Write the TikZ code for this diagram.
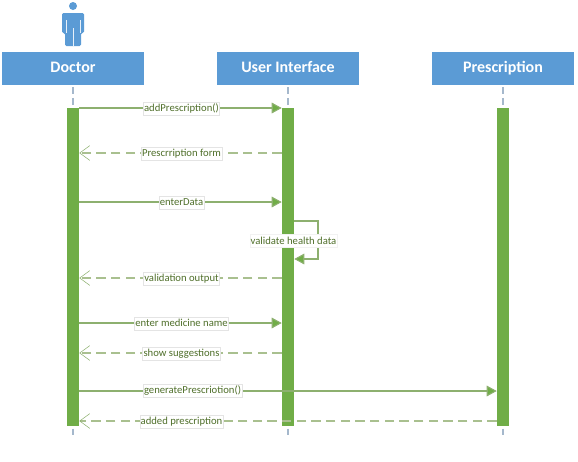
\documentclass[tikz,border=0pt]{standalone}
\usepackage{fontspec}
\setmainfont{Carlito}
\usepackage{xcolor}
\usetikzlibrary{arrows.meta,positioning,calc}
\definecolor{headblue}{HTML}{5B9BD5}
\definecolor{barleaf}{HTML}{70AD47}
\definecolor{msgleaf}{HTML}{8DB06F}
\definecolor{retleaf}{HTML}{A9C08F}
\definecolor{labeltext}{HTML}{4F6F2A}
\definecolor{lifegrey}{HTML}{A5B8CC}
\definecolor{boxgrey}{HTML}{E4E4E4}
\begin{document}
\begin{tikzpicture}[x=0.75pt,y=-0.75pt,
  head/.style={fill=headblue,text=white,font=\fontsize{12}{14}\selectfont\bfseries,minimum width=107pt,minimum height=24.75pt,inner sep=0pt,text height=8pt,text depth=2.4pt},
  bar/.style={fill=barleaf,draw=none,minimum width=9pt,inner sep=0pt},
  life/.style={draw=lifegrey,line width=0.8pt,dash pattern=on 5pt off 3pt},
  msg/.style={draw=msgleaf,line width=0.8pt,-{Triangle[length=7.5pt,width=8pt,fill=barleaf]}},
  ret/.style={draw=retleaf,line width=0.8pt,dash pattern=on 7pt off 4pt,-{Straight Barb[length=7.5pt,width=11pt,color=msgleaf,line width=0.4pt]}},
  lab/.style={fill=white,draw=boxgrey,line width=0.4pt,text=labeltext,font=\fontsize{8}{10}\selectfont,inner xsep=0.6pt,inner ysep=0.6pt,text height=6.4pt,text depth=1.8pt}]
  \useasboundingbox (0,0) rectangle (578,461);
  % actor
  \fill[headblue] (73,6) circle (4);
  \fill[headblue,rounded corners=1pt] (62,13) -- (84,13) -- (84,33) -- (81,33) -- (81,46) -- (65,46) -- (65,33) -- (62,33) -- cycle;
  \draw[white!85!headblue,line width=0.5pt] (73,28) -- (73,46) (66,20) -- (66,33) (80,20) -- (80,33);
  % lifelines
  \node[head] (doctor) at (73,68.5) {Doctor};
  \node[head] (ui) at (288,68.5) {User Interface};
  \node[head] (presc) at (503,68.5) {Prescription};
  \foreach \n in {doctor,ui,presc}{
     \coordinate (\n end) at ($(\n.south)+(0,352)$);
     \draw[life] ($(\n.south)+(0,2)$) -- (\n end);}
  \node[bar,minimum height=238.5pt] (dbar) at (73,267) {};
  \node[bar,minimum height=238.5pt] (ubar) at (288,267) {};
  \node[bar,minimum height=238.5pt] (pbar) at (503,267) {};
  \coordinate (mid) at (181.5,0);
  % messages
  \foreach \i/\y/\a/\b/\s/\t in {1/108/dbar.east/ubar.west/msg/{addPrescription()},
      2/153/ubar.west/dbar.east/ret/{Prescrription form},
      3/202/dbar.east/ubar.west/msg/{enterData},
      4/278/ubar.west/dbar.east/ret/{validation output},
      5/323/dbar.east/ubar.west/msg/{enter medicine name},
      6/353/ubar.west/dbar.east/ret/{show suggestions},
      8/421/pbar.west/dbar.east/ret/{added prescription}}{
     \draw[\s] (\a |- 0,\y) -- (\b |- 0,\y);
     \node[lab] (lab\i) at ([yshift=-0.5pt]mid |- 0,\y) {\t};
  }
  % long call
  \draw[msg] (dbar.east |- 0,391) -- (pbar.west |- 0,391);
  \node[lab] (lab7) at (192.5,390.7) {generatePrescriotion()};
  % self call
  \coordinate (selfa) at (ubar.east |- 0,221);
  \coordinate (selfb) at (318,221);
  \coordinate (selfc) at (318,259);
  \coordinate (selfd) at (ubar.east |- 0,259);
  \draw[msg] (selfa) -- (selfb) -- (selfc) -- (selfd);
  \node[lab,draw=boxgrey!50] (labself) at (293.5,241) {validate health data};
\end{tikzpicture}
\end{document}
